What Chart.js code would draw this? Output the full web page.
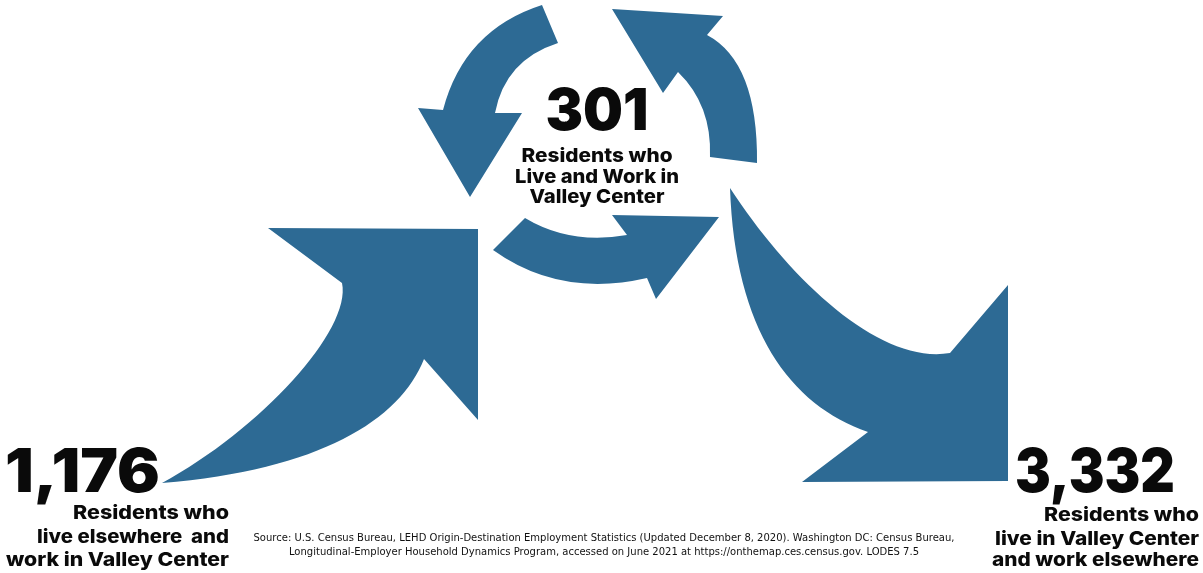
<!DOCTYPE html>
<html>
<head>
<meta charset="utf-8">
<title>Valley Center commute flows</title>
<script src="https://cdn.jsdelivr.net/npm/chart.js@4.4.0/dist/chart.umd.min.js"></script>
<style>
  html, body { margin: 0; padding: 0; background: #fff; overflow: hidden; }
  #wrap { width: 1203px; height: 573px; position: relative; }
</style>
</head>
<body>
<div id="wrap"><canvas id="flow"></canvas></div>
<script>
// ---- data ----
const flowNames = ['Inflow', 'Live and work', 'Outflow'];
const flowCounts = [1176, 301, 3332];
const flowCaptions = [
  ['Residents who', 'live elsewhere  and', 'work in Valley Center'],
  ['Residents who', 'Live and Work in', 'Valley Center'],
  ['Residents who', 'live in Valley Center', 'and work elsewhere']
];
const sourceLines = [
  'Source: U.S. Census Bureau, LEHD Origin-Destination Employment Statistics (Updated December 8, 2020). Washington DC: Census Bureau,',
  'Longitudinal-Employer Household Dynamics Program, accessed on June 2021 at https://onthemap.ces.census.gov. LODES 7.5'
];

// ---- layout (design units = the 1203 x 573 frame) ----
const ARROW = '#2d6a94';
const INK = '#0a0a0a';
// where each count sits: x, baseline y, align, fitted width
const countSpots = [
  { x: 5,    y: 492, align: 'left',   w: 155, size: 60 },
  { x: 597,  y: 130, align: 'center', w: 103, size: 58 },
  { x: 1015, y: 492, align: 'left',   w: 160, size: 60 }
];
const captionSpots = [
  { x: 229,  align: 'right',  ys: [519, 543, 566], ws: [156, 192, 223] },
  { x: 597,  align: 'center', ys: [162, 183, 203], ws: [151, 164, 135] },
  { x: 1199, align: 'right',  ys: [521, 545, 566], ws: [155, 204, 207] }
];
// arrow outlines
const arrowShapes = [
  // inflow, bottom left
  [['M',162,483],['C',260,430,352,330,342,283],['L',268,228],['L',478,229],['L',478,420],
   ['L',424,359],['C',400,420,320,470,162,483]],
  // outflow, bottom right
  [['M',730,188],['C',790,280,880,365,950,353],['L',1008,285],['L',1008,481],['L',802,482],
   ['L',868,432],['C',790,405,735,330,730,188]],
  // cycle: top left
  [['M',542,5],['Q',464,30,443,110],['L',418,108],['L',470,197],['L',522,113],['L',495,113],
   ['Q',505,60,558,43]],
  // cycle: top right
  [['M',612,9],['L',723,16],['L',707,35],['Q',758,62,757,163],['L',710,157],
   ['Q',712,105,678,72],['L',663,93]],
  // cycle: bottom
  [['M',493,250],['L',525,218],['Q',570,245,627,235],['L',612,215],['L',719,217],
   ['L',656,299],['L',647,278],['Q',560,298,493,250]]
];

const NUM_FONT = '"Inter", "Liberation Sans", Arial, sans-serif';

function fitText(ctx, text, x, y, align, width) {
  const m = ctx.measureText(text).width;
  const sx = width / m;
  ctx.save();
  ctx.translate(x, y);
  ctx.scale(sx, 1);
  ctx.textAlign = align;
  ctx.fillText(text, 0, 0);
  ctx.restore();
}

const flowArt = {
  id: 'flowArt',
  beforeDatasetsDraw(chart) {
    const { ctx, scales: { x, y } } = chart;
    const px = v => x.getPixelForValue(v);
    const py = v => y.getPixelForValue(v);
    ctx.save();
    ctx.fillStyle = ARROW;
    arrowShapes.forEach(shape => {
      ctx.beginPath();
      shape.forEach(s => {
        if (s[0] === 'M') ctx.moveTo(px(s[1]), py(s[2]));
        else if (s[0] === 'L') ctx.lineTo(px(s[1]), py(s[2]));
        else if (s[0] === 'Q') ctx.quadraticCurveTo(px(s[1]), py(s[2]), px(s[3]), py(s[4]));
        else if (s[0] === 'C') ctx.bezierCurveTo(px(s[1]), py(s[2]), px(s[3]), py(s[4]), px(s[5]), py(s[6]));
      });
      ctx.closePath();
      ctx.fill();
    });
    ctx.restore();
  },
  afterDatasetsDraw(chart) {
    const { ctx, scales: { x, y } } = chart;
    const meta = chart.getDatasetMeta(0);
    ctx.save();
    ctx.fillStyle = INK;
    ctx.textBaseline = 'alphabetic';
    flowCounts.forEach((v, i) => {
      const pt = meta.data[i];
      const spot = countSpots[i];
      ctx.font = '900 ' + spot.size + 'px ' + NUM_FONT;
      fitText(ctx, v.toLocaleString('en-US'), pt.x, pt.y, spot.align, spot.w);
      const cap = captionSpots[i];
      ctx.font = '800 19px ' + NUM_FONT;
      flowCaptions[i].forEach((line, j) => {
        fitText(ctx, line, x.getPixelForValue(cap.x), y.getPixelForValue(cap.ys[j]), cap.align, cap.ws[j]);
      });
    });
    ctx.font = '10.5px "DejaVu Sans", sans-serif';
    ctx.fillStyle = '#111';
    fitText(ctx, sourceLines[0], x.getPixelForValue(604), y.getPixelForValue(541), 'center', 701);
    ctx.textAlign = 'center';
    ctx.save();
    const w2 = ctx.measureText(sourceLines[1]).width;
    ctx.restore();
    fitText(ctx, sourceLines[1], x.getPixelForValue(604), y.getPixelForValue(555), 'center', w2 * 701 / ctx.measureText(sourceLines[0]).width);
    ctx.restore();
  }
};

new Chart(document.getElementById('flow'), {
  type: 'scatter',
  data: {
    labels: flowNames,
    datasets: [{
      label: 'Workers',
      data: flowCounts.map((v, i) => ({ x: countSpots[i].x, y: countSpots[i].y, v: v })),
      pointRadius: 0,
      pointHoverRadius: 0
    }]
  },
  options: {
    responsive: true,
    maintainAspectRatio: false,
    animation: false,
    layout: { padding: 0 },
    plugins: { legend: { display: false }, tooltip: { enabled: false }, title: { display: false } },
    events: [],
    scales: {
      x: { type: 'linear', min: 0, max: 1203, display: false },
      y: { type: 'linear', min: 0, max: 573, reverse: true, display: false }
    }
  },
  plugins: [flowArt]
});
</script>
</body>
</html>
